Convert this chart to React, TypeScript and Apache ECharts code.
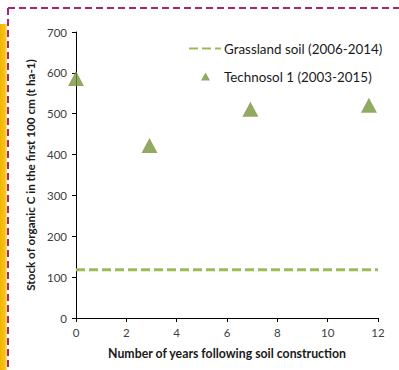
import React, { useEffect, useRef } from "react";
import * as echarts from "echarts";

const xTicks = [0, 2, 4, 6, 8, 10, 12];
const yTicks = [0, 100, 200, 300, 400, 500, 600, 700];
const grasslandName = "Grassland soil (2006-2014)";
const technosolName = "Technosol 1 (2003-2015)";
const grasslandX = [0, 12];
const grasslandY = [118, 118];
const technosolX = [0, 2.92, 6.93, 11.64];
const technosolY = [586, 422, 511, 521];

export default function App() {
  const ref = useRef<HTMLDivElement>(null);
  useEffect(() => {
    document.body.style.margin = "0";
    const chart = echarts.init(ref.current!, null, { renderer: "svg" });
    const font = "Lato, 'Open Sans', sans-serif";
    const legendText = { fontSize: 13.4, color: "#1a1a1a", fontFamily: font };
    chart.setOption({
      animation: false,
      backgroundColor: "#ffffff",
      textStyle: { fontFamily: font },
      grid: { left: 76, right: 21, top: 32, bottom: 52 },
      legend: [
        {
          left: 183,
          top: 37,
          itemWidth: 32,
          itemHeight: 10,
          itemGap: 3,
          textStyle: { ...legendText, padding: [0, 0, 0, -2] },
          data: [
            {
              name: grasslandName,
              itemStyle: { color: "rgba(0,0,0,0)", borderWidth: 0 },
            },
          ],
        },
        {
          left: 196,
          top: 65,
          itemWidth: 9,
          itemHeight: 8,
          textStyle: { ...legendText, padding: [0, 0, 0, 9] },
          data: [{ name: technosolName, itemStyle: { color: "#77933C" } }],
        },
      ],
      xAxis: {
        type: "value",
        min: xTicks[0],
        max: xTicks[xTicks.length - 1],
        interval: 2,
        name: "Number of years following soil construction",
        nameLocation: "middle",
        nameGap: 29,
        nameTextStyle: { fontWeight: "bold", fontSize: 12.3, color: "#1a1a1a" },
        axisLine: { show: true, lineStyle: { color: "#000", width: 1 } },
        axisTick: { show: true, length: 4, lineStyle: { color: "#000" } },
        axisLabel: { fontSize: 11.5, color: "#404040", margin: 8 },
        splitLine: { show: false },
      },
      yAxis: {
        type: "value",
        min: yTicks[0],
        max: yTicks[yTicks.length - 1],
        interval: 100,
        name: "Stock of organic C in the first 100 cm (t ha-1)",
        nameLocation: "middle",
        nameGap: 35,
        nameTextStyle: { fontWeight: "bold", fontSize: 11.7, color: "#1a1a1a" },
        axisLine: { show: true, lineStyle: { color: "#000", width: 1 } },
        axisTick: { show: true, length: 4, lineStyle: { color: "#000" } },
        axisLabel: { fontSize: 11.5, color: "#404040", margin: 9 },
        splitLine: { show: false },
      },
      series: [
        {
          name: grasslandName,
          type: "line",
          symbol: "none",
          data: grasslandX.map((x, i) => [x, grasslandY[i]]),
          lineStyle: { color: "#9BBB59", width: 3, type: [9, 4] },
          itemStyle: { color: "#9BBB59" },
        },
        {
          name: technosolName,
          type: "scatter",
          symbol: "triangle",
          symbolSize: [16, 15],
          data: technosolX.map((x, i) => [x, technosolY[i]]),
          itemStyle: { color: "#77933C" },
        },
      ],
      graphic: [
        {
          type: "rect",
          shape: { x: 0, y: 24, width: 7, height: 346 },
          style: {
            fill: new echarts.graphic.LinearGradient(0, 0, 1, 0, [
              { offset: 0, color: "#F2B600" },
              { offset: 0.7, color: "#F6C21A" },
              { offset: 1, color: "#FBE08A" },
            ]),
          },
          silent: true,
        },
        {
          type: "line",
          shape: { x1: 8, y1: 8, x2: 399, y2: 8 },
          style: { stroke: "#A3286F", lineWidth: 2, lineDash: [7, 4] },
          silent: true,
        },
        {
          type: "line",
          shape: { x1: 8, y1: 8, x2: 8, y2: 370 },
          style: { stroke: "#A3286F", lineWidth: 2, lineDash: [7, 4] },
          silent: true,
        },
      ],
    });
    return () => chart.dispose();
  }, []);
  return <div ref={ref} style={{ width: 399, height: 370 }} />;
}
